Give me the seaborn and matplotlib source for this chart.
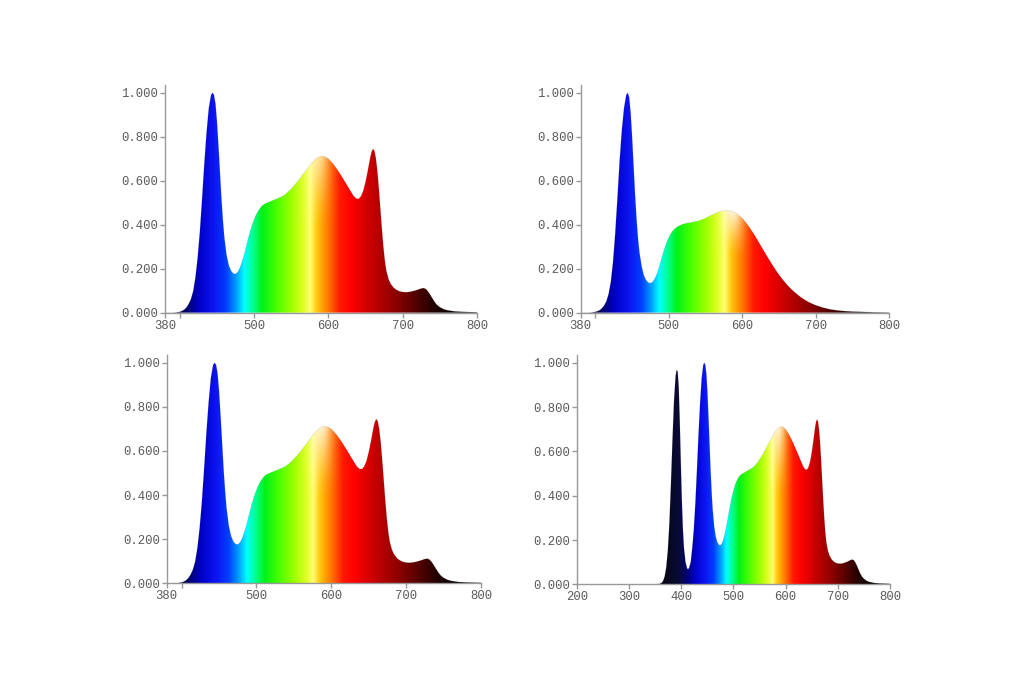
import numpy as np
import pandas as pd
import matplotlib
matplotlib.use('Agg')
import matplotlib.pyplot as plt
import seaborn as sns
from matplotlib.colors import LinearSegmentedColormap
from matplotlib.ticker import FormatStrFormatter

# Spektrum A (oben links, unten links): blaue LED + Phosphor + 660 nm rot
wl_a = [380, 390, 395, 400, 403, 406, 409, 412, 415, 418, 421, 424, 427, 430, 433,
        436, 439, 442, 444, 446, 448, 450, 452, 454, 456, 458, 460, 463, 466, 469,
        472, 475, 478, 481, 484, 487, 490, 493, 496, 499, 502, 505, 508, 511, 515,
        520, 525, 530, 535, 540, 545, 550, 555, 560, 565, 570, 575, 580, 585, 590,
        595, 600, 605, 610, 615, 620, 625, 630, 634, 638, 641, 644, 647, 650, 653,
        656, 658, 660, 662, 664, 666, 668, 670, 672, 674, 676, 678, 681, 684, 688,
        692, 696, 700, 705, 710, 715, 720, 724, 728, 731, 734, 737, 740, 743, 746,
        750, 755, 760, 770, 780, 790, 800]
val_a = [0.0, 0.0, 0.001, 0.004, 0.008, 0.014, 0.024, 0.04, 0.062, 0.098, 0.16, 0.25,
         0.37, 0.52, 0.68, 0.82, 0.93, 0.99, 1.0, 0.99, 0.95, 0.87, 0.76, 0.64, 0.52,
         0.42, 0.34, 0.26, 0.215, 0.19, 0.178, 0.176, 0.185, 0.205, 0.235, 0.27,
         0.31, 0.35, 0.385, 0.415, 0.44, 0.46, 0.475, 0.487, 0.496, 0.503, 0.51,
         0.517, 0.524, 0.533, 0.547, 0.563, 0.582, 0.603, 0.625, 0.648, 0.67, 0.69,
         0.705, 0.712, 0.71, 0.7, 0.682, 0.66, 0.635, 0.608, 0.58, 0.552, 0.53,
         0.518, 0.518, 0.53, 0.555, 0.595, 0.645, 0.7, 0.73, 0.745, 0.735, 0.7,
         0.64, 0.56, 0.47, 0.38, 0.3, 0.235, 0.19, 0.152, 0.13, 0.113, 0.103, 0.097,
         0.094, 0.093, 0.095, 0.099, 0.104, 0.109, 0.112, 0.108, 0.097, 0.082,
         0.065, 0.049, 0.036, 0.025, 0.016, 0.011, 0.006, 0.004, 0.003, 0.002]

# Spektrum B (oben rechts): weisse LED
wl_b = [380, 390, 395, 400, 403, 406, 409, 412, 415, 418, 421, 424, 427, 430, 433,
        436, 439, 442, 444, 446, 448, 450, 452, 454, 456, 458, 460, 463, 466, 469,
        472, 475, 478, 481, 484, 487, 490, 493, 496, 499, 502, 505, 508, 512, 516,
        520, 525, 530, 535, 540, 545, 550, 555, 560, 565, 570, 575, 580, 585, 590,
        595, 600, 605, 610, 615, 620, 625, 630, 635, 640, 645, 650, 655, 660, 665,
        670, 675, 680, 685, 690, 695, 700, 710, 720, 730, 740, 750, 760, 780, 800]
val_b = [0.0, 0.0, 0.001, 0.004, 0.007, 0.012, 0.02, 0.033, 0.052, 0.085, 0.14, 0.23,
         0.36, 0.52, 0.69, 0.83, 0.93, 0.99, 1.0, 0.98, 0.91, 0.8, 0.67, 0.54, 0.43,
         0.34, 0.275, 0.21, 0.17, 0.148, 0.137, 0.134, 0.14, 0.155, 0.178, 0.21,
         0.245, 0.28, 0.31, 0.335, 0.355, 0.37, 0.381, 0.391, 0.398, 0.403, 0.407,
         0.41, 0.413, 0.417, 0.423, 0.43, 0.438, 0.446, 0.454, 0.46, 0.464, 0.465,
         0.463, 0.456, 0.445, 0.43, 0.41, 0.387, 0.362, 0.335, 0.306, 0.278, 0.25,
         0.223, 0.197, 0.173, 0.151, 0.131, 0.113, 0.097, 0.083, 0.07, 0.059, 0.049,
         0.041, 0.034, 0.023, 0.015, 0.01, 0.007, 0.005, 0.004, 0.002, 0.001]

# Spektrum D (unten rechts): wie A, zusaetzlich UV-Peak bei 392 nm
wl_uv = [200, 350, 358, 362, 365, 368, 371, 374, 377, 380, 383, 386, 389, 391, 393,
         395, 397, 399, 401, 403, 405, 408, 411, 413, 415, 418, 421]
val_uv = [0.0, 0.0, 0.002, 0.006, 0.015, 0.035, 0.075, 0.15, 0.27, 0.45, 0.65, 0.83,
          0.94, 0.968, 0.96, 0.89, 0.74, 0.55, 0.38, 0.25, 0.165, 0.1, 0.072, 0.068,
          0.075, 0.1, 0.165]
start = wl_a.index(424)
wl_d = wl_uv + wl_a[start:]
val_d = val_uv + val_a[start:]

# Farben entlang der Wellenlaenge
color_stops = [
    (360, (0.02, 0.02, 0.06)), (395, (0.04, 0.04, 0.22)), (410, (0.0, 0.0, 0.45)),
    (425, (0.0, 0.0, 0.78)), (445, (0.05, 0.08, 0.95)), (462, (0.0, 0.25, 1.0)),
    (476, (0.0, 0.65, 1.0)), (486, (0.0, 1.0, 1.0)), (498, (0.0, 1.0, 0.55)),
    (510, (0.0, 0.95, 0.1)), (530, (0.3, 1.0, 0.0)), (550, (0.62, 1.0, 0.0)),
    (566, (0.88, 1.0, 0.15)), (575, (1.0, 1.0, 0.45)), (584, (1.0, 0.78, 0.05)),
    (600, (1.0, 0.45, 0.0)), (615, (1.0, 0.1, 0.0)), (630, (1.0, 0.0, 0.0)),
    (660, (0.76, 0.0, 0.0)), (690, (0.55, 0.0, 0.0)), (720, (0.3, 0.0, 0.0)),
    (740, (0.14, 0.0, 0.0)), (760, (0.05, 0.0, 0.0)), (800, (0.0, 0.0, 0.0)),
]
lo, hi = color_stops[0][0], color_stops[-1][0]
spec_cmap = LinearSegmentedColormap.from_list(
    'spec', [((w - lo) / (hi - lo), c) for w, c in color_stops])

sns.set_style('white')
plt.rcParams['font.family'] = ['Liberation Mono', 'DejaVu Sans Mono']
TXT = '#5a5a5a'
SPINE = '#999999'
YTOP = 1.035

fig = plt.figure(figsize=(10.24, 6.83), dpi=100)
fig.patch.set_facecolor('white')

panels = [
    ([0.1611, 0.5422, 0.3047, 0.3333], wl_a, val_a, (380, 800), 0.6),
    ([0.5671, 0.5422, 0.3011, 0.3333], wl_b, val_b, (380, 800), 0.85),
    ([0.1628, 0.1460, 0.3069, 0.3342], wl_a, val_a, (380, 800), 0.8),
    ([0.5635, 0.1445, 0.3056, 0.3357], wl_d, val_d, (200, 800), 0.8),
]

for rect, wl, val, (xmin, xmax), glow in panels:
    ax = fig.add_axes(rect)
    df = pd.DataFrame({'wavelength': wl, 'intensity': val})

    # Farbverlauf als Bild, auf die Flaeche unter der Kurve beschnitten
    xs = np.linspace(xmin, xmax, 900)
    ys = np.linspace(0, YTOP, 400)
    X, Y = np.meshgrid(xs, ys)
    rgb = spec_cmap(np.clip((X - lo) / (hi - lo), 0, 1))[..., :3]
    curve = np.interp(xs, wl, val)[None, :]
    ratio = np.where(curve > 0, Y / np.maximum(curve, 1e-6), 0)
    shine = glow * np.exp(-((X - 586) / 13.0) ** 2) * np.clip((ratio - 0.55) / 0.45, 0, 1) ** 1.5
    rgb = rgb + (1 - rgb) * shine[..., None]
    im = ax.imshow(rgb, extent=[xmin, xmax, 0, YTOP], origin='lower',
                   aspect='auto', interpolation='bilinear', zorder=1)
    poly = ax.fill_between(df['wavelength'], df['intensity'], color='none', lw=0)
    im.set_clip_path(poly.get_paths()[0], transform=ax.transData)

    sns.lineplot(data=df, x='wavelength', y='intensity', ax=ax,
                 color='0.35', lw=0.4, alpha=0.2, zorder=2)

    ax.set_xlim(xmin, xmax)
    ax.set_ylim(0, YTOP)
    ax.set_xlabel('')
    ax.set_ylabel('')
    if xmin == 380:
        ax.set_xticks([380, 400, 500, 600, 700, 800])
        ax.set_xticklabels(['380', '', '500', '600', '700', '800'])
    else:
        ax.set_xticks([200, 300, 400, 500, 600, 700, 800])
    ax.set_yticks([0, 0.2, 0.4, 0.6, 0.8, 1.0])
    ax.yaxis.set_major_formatter(FormatStrFormatter('%.3f'))
    ax.tick_params(axis='both', which='major', labelsize=8.8, labelcolor=TXT,
                   color=SPINE, length=3.5, width=1, pad=1.5, direction='out',
                   left=True, bottom=True)
    for side in ['top', 'right']:
        ax.spines[side].set_visible(False)
    for side in ['left', 'bottom']:
        ax.spines[side].set_color(SPINE)
        ax.spines[side].set_linewidth(1)
    ax.set_facecolor('white')

fig.savefig('out.png', dpi=100, facecolor='white')
